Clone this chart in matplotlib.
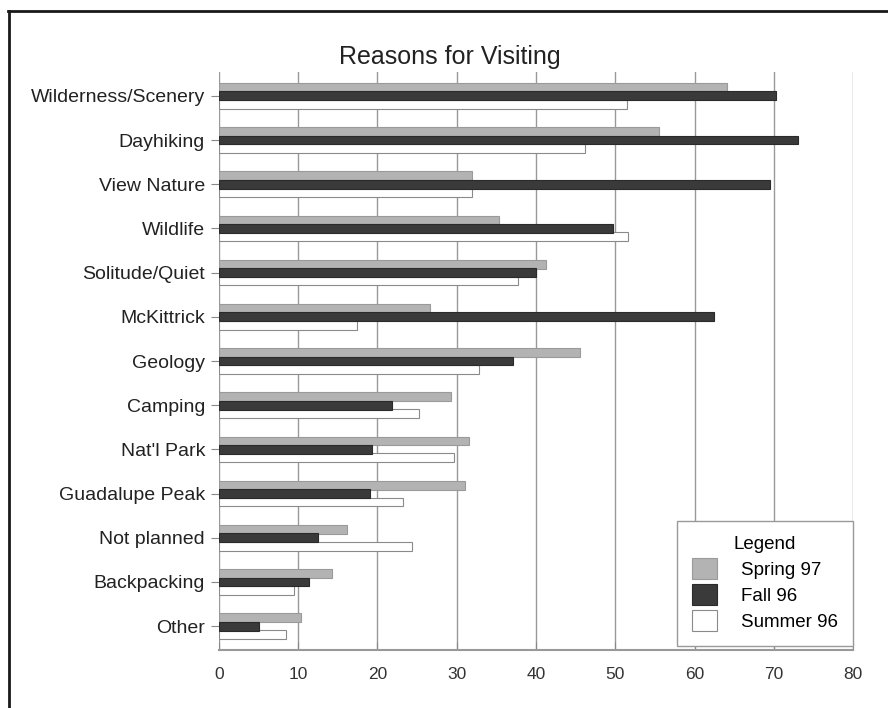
import numpy as np
import matplotlib.pyplot as plt
from matplotlib.lines import Line2D

plt.rcParams['font.family'] = ['Liberation Sans', 'DejaVu Sans']

categories = ['Wilderness/Scenery', 'Dayhiking', 'View Nature', 'Wildlife', 'Solitude/Quiet',
              'McKittrick', 'Geology', 'Camping', "Nat'l Park", 'Guadalupe Peak',
              'Not planned', 'Backpacking', 'Other']
spring97 = [64.1, 55.5, 31.9, 35.3, 41.2, 26.6, 45.6, 29.3, 31.6, 31.1, 16.2, 14.3, 10.3]
fall96 = [70.3, 73.1, 69.5, 49.7, 40.0, 62.4, 37.1, 21.8, 19.3, 19.0, 12.5, 11.4, 5.1]
summer96 = [51.5, 46.2, 31.9, 51.6, 37.7, 17.4, 32.8, 25.2, 29.7, 23.2, 24.3, 9.5, 8.4]
xticks = [0, 10, 20, 30, 40, 50, 60, 70, 80]

fig = plt.figure(figsize=(8.88, 7.08), dpi=100)
ax = fig.add_axes([0.2466, 0.0819, 0.7140, 0.8164])

y = np.arange(len(categories))
h = 0.2
off = 0.19
ax.barh(y - off, spring97, height=h, color='#b3b3b3', edgecolor='#9a9a9a', linewidth=0.8,
        label='Spring 97', zorder=3)
ax.barh(y + off, summer96, height=h, color='white', edgecolor='#8a8a8a', linewidth=0.8,
        label='Summer 96', zorder=3)
ax.barh(y, fall96, height=h, color='#3a3a3a', edgecolor='#2a2a2a', linewidth=0.8,
        label='Fall 96', zorder=4)

ax.set_xlim(0, 80)
ax.set_ylim(12.54, -0.54)
ax.set_yticks(y)
ax.set_yticklabels(categories, fontsize=14, color='#222222')
ax.set_xticks(xticks)
ax.set_xticklabels([str(t) for t in xticks], fontsize=12.5, color='#333333')
ax.tick_params(axis='x', direction='in', length=6, color='#888888', pad=12)
ax.tick_params(axis='y', length=6, color='#888888', pad=4)
ax.grid(axis='x', color='#999999', linewidth=1.0, zorder=0)

for s in ['top', 'right', 'left']:
    ax.spines[s].set_visible(False)
ax.spines['bottom'].set_color('#999999')
ax.spines['bottom'].set_linewidth(1.5)

fig.text(450 / 888, 1 - 57 / 708, 'Reasons for Visiting', fontsize=18, color='#222222',
         ha='center', va='center')

handles, labels = ax.get_legend_handles_labels()
order = [0, 2, 1]
leg = ax.legend([handles[i] for i in order], [labels[i] for i in order],
                title='Legend', loc='lower right', bbox_to_anchor=(1.0, 0.007),
                fontsize=13.5, title_fontsize=13.5, fancybox=False, framealpha=1,
                edgecolor='#999999', borderpad=0.8, handlelength=1.3, handleheight=1.3,
                labelspacing=0.3, handletextpad=1.3, borderaxespad=0)
leg.get_frame().set_linewidth(1.0)
leg.set_zorder(10)

# frame around the figure (top and left edges visible)
fig.add_artist(Line2D([8 / 888, 1.0], [1 - 11 / 708, 1 - 11 / 708], color='#1a1a1a', linewidth=2))
fig.add_artist(Line2D([9 / 888, 9 / 888], [0, 1 - 11 / 708], color='#1a1a1a', linewidth=2))

fig.savefig('out.png', dpi=100)
